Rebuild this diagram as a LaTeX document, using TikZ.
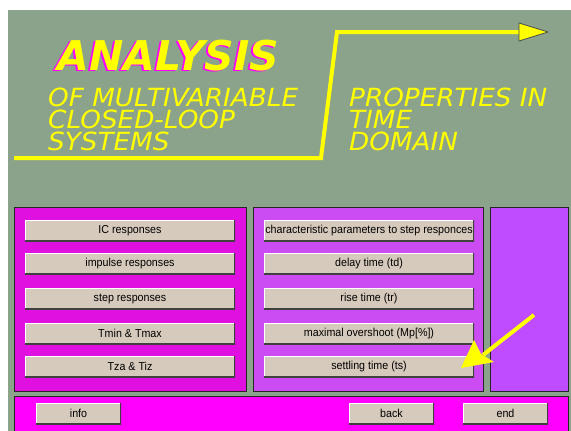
\documentclass[tikz,border=0pt]{standalone}
\usepackage{fontspec}
\setmainfont{Liberation Sans}
\newfontfamily\btnfont{Liberation Sans}[FakeStretch=0.93]
\newfontfamily\titlefont{DejaVu Sans}
\newfontfamily\subfont{DejaVu Sans}[FakeStretch=1.05]
\definecolor{bggray}{RGB}{139,163,139}
\definecolor{panelA}{RGB}{224,16,224}
\definecolor{panelB}{RGB}{204,76,244}
\definecolor{panelC}{RGB}{192,76,255}
\definecolor{panelD}{RGB}{255,0,255}
\definecolor{btnface}{RGB}{214,202,188}
\definecolor{ttlyellow}{RGB}{255,255,0}
\definecolor{ttlshadow}{RGB}{255,0,255}
\tikzset{
  panel/.style={draw=black!85, line width=1pt},
  btn/.style={fill=btnface, minimum width=210pt, minimum height=21pt, inner sep=0pt,
    font=\btnfont\fontsize{11.5}{12}\selectfont, text=black,
    path picture={
      \draw[white, line width=2pt] (path picture bounding box.south west) |- (path picture bounding box.north east);
      \draw[black!75, line width=2.4pt] (path picture bounding box.south west) -| (path picture bounding box.north east);
    }},
  smallbtn/.style={btn, minimum width=85pt},
  bigtitle/.style={anchor=base west, inner sep=0pt, font=\titlefont\bfseries\itshape\fontsize{41}{41}\selectfont},
  subtitle/.style={anchor=base west, inner sep=0pt, text=ttlyellow, text height=19pt, text depth=1pt,
    font=\subfont\itshape\fontsize{25}{25}\selectfont},
  flow/.style={draw=ttlyellow, line width=4pt, line join=miter},
}
\begin{document}
\begin{tikzpicture}[x=1pt, y=-1pt]
\useasboundingbox (0,0) rectangle (571,431);
% window background
\fill[white] (0,0) rectangle (571,431);
\fill[bggray] (8,10) rectangle (571,431);

% heading flow line with arrow head
\coordinate (f0) at (14,158);
\coordinate (f1) at (321,158);
\coordinate (f2) at (337,32);
\coordinate (f3) at (521,32);
\draw[flow] (f0) -- (f1) -- (f2) -- (f3);
\draw[fill=ttlyellow, draw=black!70, line width=0.8pt] (519,23) -- (548,32) -- (519,41) -- cycle;

% heading texts (magenta copy behind gives the drop shadow)
\node[bigtitle, text=ttlshadow] (ttlsh) at (55.5,71) {ANALYSIS};
\node[bigtitle, text=ttlyellow] (ttl) at (57.5,70) {ANALYSIS};
\node[subtitle] (s1) at (48,106) {OF MULTIVARIABLE};
\node[subtitle] (s2) at (48,128) {CLOSED-LOOP};
\node[subtitle] (s3) at (48,150) {SYSTEMS};
\node[subtitle] (p1) at (349,106) {PROPERTIES IN};
\node[subtitle] (p2) at (349,128) {TIME};
\node[subtitle] (p3) at (349,150) {DOMAIN};

% panels
\path[panel, fill=panelA] (14,207) rectangle (246,391);
\path[panel, fill=panelB] (253,207) rectangle (483,391);
\path[panel, fill=panelC] (490,207) rectangle (568,391);
\path[panel, fill=panelD] (14,396) rectangle (568,436);

% left column buttons
\node[btn] (ic)   at (130,230.5) {IC responses};
\node[btn] (imp)  at (130,263.5) {impulse responses};
\node[btn] (stp)  at (130,298.5) {step responses};
\node[btn] (tmm)  at (130,333.5) {Tmin \& Tmax};
\node[btn] (tza)  at (130,366.5) {Tza \& Tiz};

% middle column buttons
\node[btn] (chr)  at (369,230.5) {characteristic parameters to step responces};
\node[btn] (dly)  at (369,263.5) {delay time (td)};
\node[btn] (rse)  at (369,298.5) {rise time (tr)};
\node[btn] (ovs)  at (369,333.5) {maximal overshoot (Mp[\%])};
\node[btn] (sett) at (369,366.5) {settling time (ts)};

% bottom bar buttons
\node[smallbtn] (info) at (78.5,413.5) {info};
\node[smallbtn] (back) at (391.5,413.5) {back};
\node[smallbtn] (endb) at (505.5,413.5) {end};

% pointer to the settling time button
\coordinate (ptr) at (534,315);
\coordinate (neck) at (483,355);
\draw[ttlyellow, line width=4pt] (ptr) -- (neck);
\fill[ttlyellow] (461,368) -- (474,340) -- (481,354) -- (494,362) -- cycle;
\end{tikzpicture}
\end{document}
